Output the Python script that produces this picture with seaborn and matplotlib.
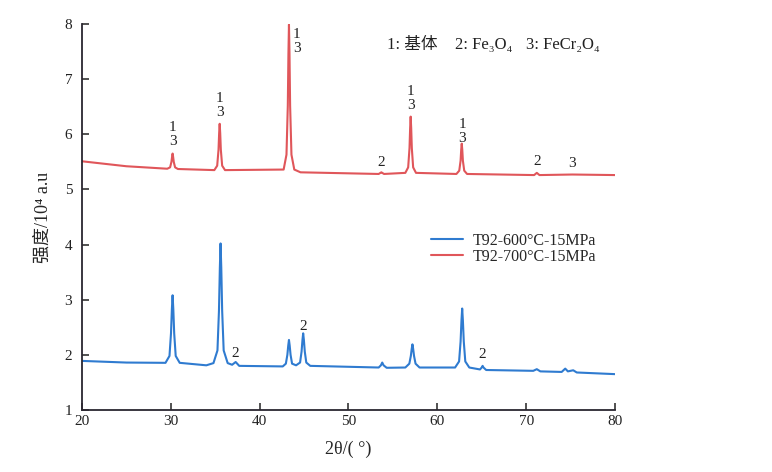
import matplotlib
matplotlib.use("Agg")
import matplotlib.pyplot as plt
import seaborn as sns

# XRD pattern (2theta in degrees, intensity in 10^4 a.u)
blue_x = [20.0, 25.0, 29.4, 29.85, 30.02, 30.12, 30.2, 30.28, 30.38, 30.55,
          31.0, 34.0, 34.8, 35.25, 35.42, 35.52, 35.6, 35.68, 35.78, 35.95,
          36.4, 36.9, 37.3, 37.7, 42.6, 42.95, 43.12, 43.22, 43.3, 43.38,
          43.48, 43.65, 44.1, 44.55, 44.72, 44.82, 44.9, 44.98, 45.08, 45.25,
          45.7, 53.4, 53.65, 53.8, 53.95, 54.3, 56.4, 56.85, 57.02, 57.12,
          57.2, 57.28, 57.38, 57.55, 58.0, 62.0, 62.45, 62.62, 62.72, 62.8,
          62.88, 62.98, 63.15, 63.6, 64.8, 65.0, 65.1, 65.2, 65.5, 70.8,
          71.2, 71.6, 74.0, 74.4, 74.7, 75.3, 75.7, 80.0]
blue_y = [1.89, 1.86, 1.855, 1.98, 2.39, 2.83, 3.08, 2.83, 2.39, 1.98,
          1.855, 1.81, 1.85, 2.08, 2.80, 3.58, 4.02, 3.58, 2.80, 2.08,
          1.85, 1.82, 1.87, 1.80, 1.79, 1.84, 2.00, 2.17, 2.27, 2.17,
          2.00, 1.84, 1.81, 1.86, 2.06, 2.27, 2.39, 2.27, 2.06, 1.86,
          1.80, 1.77, 1.81, 1.86, 1.81, 1.765, 1.77, 1.84, 1.98, 2.11,
          2.19, 2.11, 1.98, 1.84, 1.77, 1.77, 1.88, 2.24, 2.62, 2.84,
          2.62, 2.24, 1.88, 1.77, 1.735, 1.77, 1.80, 1.77, 1.725, 1.71,
          1.74, 1.70, 1.69, 1.75, 1.70, 1.72, 1.68, 1.65]

red_x = [20.0, 25.0, 29.6, 29.92, 30.07, 30.14, 30.2, 30.26, 30.33, 30.48,
         30.8, 34.9, 35.22, 35.37, 35.44, 35.5, 35.56, 35.63, 35.78, 36.1,
         42.7, 43.02, 43.17, 43.24, 43.3, 43.36, 43.43, 43.58, 43.9, 44.6,
         53.4, 53.6, 53.7, 53.8, 54.0, 56.4, 56.72, 56.87, 56.94, 57.0,
         57.06, 57.13, 57.28, 57.6, 62.15, 62.47, 62.62, 62.69, 62.75, 62.81,
         62.88, 63.03, 63.35, 70.9, 71.2, 71.5, 75.2, 80.0]
red_y = [5.51, 5.42, 5.375, 5.40, 5.50, 5.59, 5.65, 5.59, 5.50, 5.40,
         5.37, 5.35, 5.43, 5.72, 6.02, 6.19, 6.02, 5.72, 5.43, 5.35,
         5.36, 5.63, 6.52, 7.46, 7.99, 7.46, 6.52, 5.63, 5.36, 5.31,
         5.28, 5.30, 5.31, 5.30, 5.28, 5.30, 5.40, 5.75, 6.11, 6.32,
         6.11, 5.75, 5.40, 5.30, 5.28, 5.34, 5.52, 5.72, 5.83, 5.72,
         5.52, 5.34, 5.28, 5.26, 5.30, 5.26, 5.27, 5.26]

series_names = ["T92-600°C-15MPa", "T92-700°C-15MPa"]

# peak labels (1: matrix, 2: Fe3O4, 3: FeCr2O4)
peak_label_x = [30.2, 35.5, 44.2, 53.7, 57.0, 62.8, 71.2, 75.2, 37.3, 44.9, 65.1]
peak_label_y = [5.99, 6.53, 7.68, 5.49, 6.64, 6.05, 5.51, 5.47, 2.03, 2.52, 2.00]
peak_label_text = ["1\n3", "1\n3", "1\n3", "2", "1\n3", "1\n3", "2", "3", "2", "2", "2"]

phase_key = ["1: 基体", "2: Fe₃O₄", "3: FeCr₂O₄"]
phase_key_pos = [0.572, 0.700, 0.833]

blue = "#2f7bd0"
red = "#e0565a"

sns.set_theme(style="ticks")
plt.rcParams["font.family"] = ["Liberation Serif", "DejaVu Serif", "Noto Sans CJK SC"]

fig = plt.figure(figsize=(7.72, 4.72), dpi=100)
ax = fig.add_axes([0.1062, 0.1314, 0.6904, 0.8178])

sns.lineplot(x=blue_x, y=blue_y, ax=ax, color=blue, lw=1.5,
             estimator=None, label=series_names[0])
sns.lineplot(x=red_x, y=red_y, ax=ax, color=red, lw=1.5,
             estimator=None, label=series_names[1])

for x, y, t in zip(peak_label_x, peak_label_y, peak_label_text):
    ax.text(x, y, t, ha="center", va="center", fontsize=11,
            linespacing=1.1, color="#222222")

for pos, t in zip(phase_key_pos, phase_key):
    ax.text(pos, 0.946, t, transform=ax.transAxes, ha="left",
            va="center", fontsize=12, color="#222222")

ax.set_xlim(20, 80)
ax.set_ylim(1, 8)
ax.set_xticks(range(20, 81, 10))
ax.set_yticks(range(1, 9))
ax.tick_params(direction="in", length=5, width=1.1, labelsize=11,
               colors="#222222")
ax.tick_params(axis="y", pad=7)
for side in ["top", "right"]:
    ax.spines[side].set_visible(False)
for side in ["left", "bottom"]:
    ax.spines[side].set_linewidth(1.3)
    ax.spines[side].set_color("#2a2630")

ax.set_xlabel("2θ/( °)", fontsize=13, labelpad=9)
ax.set_ylabel("强度/10⁴ a.u", fontsize=13, labelpad=9)

ax.legend(loc="upper left", bbox_to_anchor=(0.628, 0.497), frameon=False,
          fontsize=11.5, handlelength=2.0, handletextpad=0.6, labelspacing=0.0)

fig.savefig("out.png", dpi=100)
